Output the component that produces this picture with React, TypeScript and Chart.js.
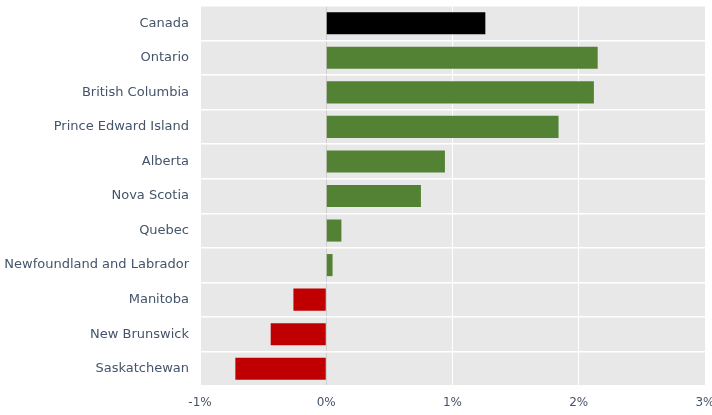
import React, { useEffect, useRef } from "react";
import { Chart, registerables } from "chart.js";

Chart.register(...registerables);

const provinces = [
  "Canada",
  "Ontario",
  "British Columbia",
  "Prince Edward Island",
  "Alberta",
  "Nova Scotia",
  "Quebec",
  "Newfoundland and Labrador",
  "Manitoba",
  "New Brunswick",
  "Saskatchewan",
];
const growth = [1.26, 2.15, 2.12, 1.84, 0.94, 0.75, 0.12, 0.05, -0.26, -0.44, -0.72];
const xTicks = [-1, 0, 1, 2, 3];

const textColor = "#44546a";

const plotBg = {
  id: "plotBg",
  beforeDraw(chart: any) {
    const { ctx, chartArea } = chart;
    ctx.save();
    ctx.fillStyle = "#e8e8e8";
    ctx.fillRect(chartArea.left, chartArea.top, chartArea.right - chartArea.left, chartArea.bottom - chartArea.top);
    ctx.restore();
  },
};

export default function App() {
  const ref = useRef<HTMLCanvasElement>(null);
  useEffect(() => {
    document.body.style.margin = "0";
    const colors = provinces.map((p, i) => (i === 0 ? "#000000" : growth[i] >= 0 ? "#548235" : "#c00000"));
    const chart = new Chart(ref.current!, {
      type: "bar",
      data: {
        labels: provinces,
        datasets: [
          {
            data: growth,
            backgroundColor: colors,
            borderWidth: 0,
            barPercentage: 0.64,
            categoryPercentage: 1,
          },
        ],
      },
      options: {
        indexAxis: "y",
        animation: false,
        responsive: false,
        maintainAspectRatio: false,
        layout: { padding: { top: 6, right: 7, left: 0, bottom: 0 } },
        plugins: { legend: { display: false }, tooltip: { enabled: false } },
        scales: {
          x: {
            min: -1,
            max: 3,
            afterBuildTicks: (scale: any) => {
              scale.ticks = xTicks.map((v) => ({ value: v }));
            },
            afterFit: (scale: any) => {
              scale.height = 29;
              scale.paddingLeft = 0;
              scale.paddingRight = 0;
            },
            grid: {
              color: (c: any) => (c.tick && c.tick.value === 0 ? "#cfcfcf" : "#ffffff"),
              lineWidth: 1,
              drawTicks: false,
            },
            border: { display: false },
            ticks: {
              color: textColor,
              font: { family: "DejaVu Sans", size: 12 },
              padding: 10,
              callback: (v: any) => `${v}%`,
            },
          },
          y: {
            afterFit: (scale: any) => {
              scale.width = 200;
              scale.paddingTop = 0;
              scale.paddingBottom = 0;
            },
            grid: { color: "#ffffff", lineWidth: 1.5, offset: true, drawTicks: false },
            border: { display: false },
            ticks: {
              color: textColor,
              font: { family: "DejaVu Sans", size: 13 },
              padding: 11,
            },
          },
        },
      },
      plugins: [plotBg],
    });
    return () => chart.destroy();
  }, []);
  return (
    <div style={{ width: 712, height: 415 }}>
      <canvas ref={ref} width={712} height={415} />
    </div>
  );
}
